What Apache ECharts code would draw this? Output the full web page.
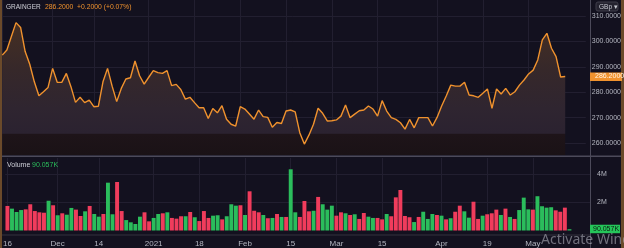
<!DOCTYPE html>
<html><head><meta charset="utf-8">
<script src="https://cdn.jsdelivr.net/npm/echarts@6/dist/echarts.min.js"></script>
<style>html,body{margin:0;padding:0;background:#13111f;overflow:hidden}#c{width:624px;height:248px;}</style>
</head><body><div id="c"></div>
<script>
const price = [294.6,296.6,302,307.4,305.5,296,291,284.1,278.6,280.2,281.9,289.4,283.9,283.9,287.4,282.2,276,278,275.9,276.9,274.3,274.5,284.1,289.4,282.4,276.3,281.5,285.2,285.7,292.3,286.5,283.2,285.9,288.5,287.7,287.4,288.5,282.6,283.1,281.1,277.3,278,275.9,273.9,273.9,269.7,273.6,271.9,274.7,269.4,267.4,266.7,274.3,273.4,271.4,269.4,273,270.4,270.1,266.2,268.1,267.7,272.6,273,272.3,264.1,259.6,263.1,267.4,273.7,271.7,268.7,268.8,269.1,270.6,275,270,271.4,272.7,273,274.6,273.4,270.6,276.7,272.6,270,269.3,268,265.5,269.3,266,270,270,270,266.7,270.1,274.6,278.5,282.8,282.4,282.4,283.9,278.9,278.6,278,279.6,281.3,273.7,281.3,279.3,281.5,278.9,280.2,282.8,284.8,287.2,288.7,292.7,300.6,303.2,297.3,294,286,286.2];
const volume = [1.74,1.55,1.31,1.45,1.50,1.86,1.38,1.29,1.26,2.11,1.79,1.08,1.22,1.12,1.60,1.48,1.03,1.36,1.74,1.17,0.98,1.17,3.39,1.15,3.44,1.38,0.74,0.58,0.46,0.98,1.29,0.65,0.89,1.17,1.22,1.29,0.89,0.84,1.01,1.01,1.31,0.94,0.67,1.38,0.89,1.05,1.08,0.79,1.01,1.86,1.76,1.79,1.10,2.78,1.40,1.29,1.10,0.87,0.89,1.17,0.96,0.96,4.34,1.29,0.96,2.09,1.36,1.40,2.38,1.86,1.48,1.76,1.05,1.29,1.22,1.10,1.15,0.82,1.24,0.98,0.89,0.89,0.79,1.17,1.01,2.35,2.87,1.03,0.94,0.60,0.96,1.33,0.82,1.17,1.10,1.05,0.79,0.87,1.33,1.76,1.36,0.91,2.04,0.82,1.05,1.15,1.22,1.48,1.10,1.55,0.96,0.82,1.45,2.33,1.50,1.48,2.43,1.72,1.62,1.65,1.43,1.33,1.62,0.09];
const volUp = [0,1,1,1,0,0,0,0,0,1,0,1,0,1,1,0,0,1,0,1,1,0,1,1,0,0,1,1,1,1,0,0,1,1,0,1,0,0,0,1,0,1,0,0,0,1,1,0,1,1,1,0,1,0,0,0,1,0,1,0,1,0,1,1,0,0,0,1,0,1,1,1,0,0,1,0,1,0,0,1,1,0,0,1,0,0,0,0,0,1,0,1,1,1,0,1,0,1,0,0,1,1,0,0,1,0,0,0,1,0,1,0,1,1,1,0,1,1,1,1,0,0,0,1];
const tickIndex = [0,11,20,32,42,52,62,72,82,95,105,115];
const tickText = ['16','Dec','14','2021','18','Feb','15','Mar','15','Apr','19','May'];
const priceTicks = [260,270,280,290,300,310];
const volTicks = [2,4];
const lastPriceText = '286.2000';
const changeText = '+0.2000 (+0.07%)';
const lastVolText = '90.057K';
const slotCount = 128;

const categories = [];
for (let i = 0; i < slotCount; i++) categories.push(String(i));
const labelMap = {};
tickIndex.forEach((k, i) => { labelMap[k] = tickText[i]; });
const isTick = (idx) => labelMap[idx] !== undefined;

const GREEN = '#2bbd5c', RED = '#f03c5c', ORANGE = '#f0922e';
const GRID = '#221f30', TXT = '#b4b6c0';
const FONT = 'Liberation Sans, Arial, sans-serif';

const chart = echarts.init(document.getElementById('c'), null, {renderer: 'canvas'});
const option = {
  backgroundColor: '#13111f',
  animation: false,
  grid: [
    {left: 0, right: 34, top: 0, height: 155},
    {left: 0, right: 34, top: 158, height: 72.5}
  ],
  xAxis: [
    {type: 'category', gridIndex: 0, data: categories, boundaryGap: true,
     axisLine: {show: false}, axisTick: {show: false}, axisLabel: {show: false},
     splitLine: {show: true, interval: isTick, alignWithLabel: true, lineStyle: {color: GRID, width: 1}}},
    {type: 'category', gridIndex: 1, data: categories, boundaryGap: true,
     axisLine: {show: false}, axisTick: {show: false},
     axisLabel: {show: true, interval: isTick, formatter: (v, idx) => labelMap[idx] || '',
       alignMinLabel: 'center', hideOverlap: false,
       color: TXT, fontSize: 8, fontFamily: FONT, margin: 9},
     splitLine: {show: true, interval: isTick, alignWithLabel: true, lineStyle: {color: GRID, width: 1}}}
  ],
  yAxis: [
    {type: 'value', gridIndex: 0, position: 'right', min: 255.3, max: 316.3,
     axisLine: {show: false},
     axisTick: {show: false, customValues: priceTicks},
     axisLabel: {show: true, customValues: priceTicks, formatter: v => v.toFixed(4),
       color: TXT, fontSize: 7, fontFamily: FONT, margin: 6},
     splitLine: {show: true, lineStyle: {color: GRID, width: 1}}},
    {type: 'value', gridIndex: 1, position: 'right', min: 0, max: 5.14,
     axisLine: {show: false},
     axisTick: {show: false, customValues: volTicks},
     axisLabel: {show: true, customValues: volTicks, formatter: v => v + 'M',
       color: TXT, fontSize: 7, fontFamily: FONT, margin: 7},
     splitLine: {show: true, lineStyle: {color: GRID, width: 1}}}
  ],
  series: [
    {type: 'line', xAxisIndex: 0, yAxisIndex: 0, data: price, symbol: 'none', z: 3,
     lineStyle: {color: ORANGE, width: 1.4},
     areaStyle: {origin: 'start', opacity: 1,
       color: new echarts.graphic.LinearGradient(0, 0, 0, 155, [
         {offset: 0, color: '#503420'},
         {offset: 0.2, color: '#432e24'},
         {offset: 0.45, color: '#36282a'},
         {offset: 0.7, color: '#2f2530'},
         {offset: 0.86, color: '#2b2230'},
         {offset: 0.866, color: '#1e1419'},
         {offset: 1, color: '#1a1216'}
       ], true)}},
    {type: 'bar', xAxisIndex: 1, yAxisIndex: 1, barCategoryGap: '14%', z: 3,
     data: volume.map((v, i) => ({value: v, itemStyle: {color: volUp[i] ? GREEN : RED}}))}
  ]
};
chart.setOption(option);

const lastIdx = price.length - 1;
const pTag = chart.convertToPixel({gridIndex: 0}, [lastIdx, price[lastIdx]]);
const vTag = chart.convertToPixel({gridIndex: 1}, [lastIdx, volume[lastIdx]]);

chart.setOption({
  graphic: [
    {type: 'rect', z: 50, shape: {x: 0, y: 155.5, width: 624, height: 1.5}, style: {fill: '#4c4a5a'}},
    {type: 'rect', z: 50, shape: {x: 0, y: 234.5, width: 590, height: 1}, style: {fill: '#34323f'}},
    {type: 'rect', z: 50, shape: {x: 590, y: 0, width: 1, height: 248}, style: {fill: '#4c4a5a'}},
    {type: 'rect', z: 60, shape: {x: 0, y: 0, width: 2, height: 248}, style: {fill: '#6b4a2a'}},
    {type: 'rect', z: 60, shape: {x: 621, y: 0, width: 3, height: 248}, style: {fill: '#6b4a2a'}},
    {type: 'text', z: 60, x: 6, y: 3.5, style: {text: 'GRAINGER', fill: '#cfd0d8', fontSize: 6.5, fontFamily: FONT}},
    {type: 'text', z: 60, x: 45, y: 3.5, style: {text: lastPriceText, fill: ORANGE, fontSize: 6.8, fontFamily: FONT}},
    {type: 'text', z: 60, x: 77, y: 3.5, style: {text: changeText, fill: ORANGE, fontSize: 6.8, fontFamily: FONT}},
    {type: 'text', z: 60, x: 7, y: 161.5, style: {text: 'Volume', fill: '#cfd0d8', fontSize: 7, fontFamily: FONT}},
    {type: 'text', z: 60, x: 32, y: 161.5, style: {text: lastVolText, fill: GREEN, fontSize: 7, fontFamily: FONT}},
    {type: 'rect', z: 60, shape: {x: 596, y: 2, width: 22, height: 9, r: 2}, style: {fill: '#24222f', stroke: '#3e3c4a', lineWidth: 1}},
    {type: 'text', z: 61, x: 599, y: 3.5, style: {text: 'GBp ▾', fill: '#c8c9d2', fontSize: 6.5, fontFamily: FONT}},
    {type: 'rect', z: 60, shape: {x: 590, y: pTag[1] - 4, width: 32, height: 8.5}, style: {fill: ORANGE}},
    {type: 'text', z: 61, x: 595, y: pTag[1] - 3.5, style: {text: lastPriceText, fill: '#fff4e6', fontSize: 7, fontFamily: FONT}},
    {type: 'rect', z: 60, shape: {x: 590, y: vTag[1] - 4.5, width: 30, height: 8.5}, style: {fill: '#25c55a'}},
    {type: 'text', z: 61, x: 593, y: vTag[1] - 4, style: {text: lastVolText, fill: '#0c1a10', fontSize: 7, fontFamily: FONT}},
    {type: 'text', z: 70, x: 541, y: 233, style: {text: 'Activate Windows', fill: 'rgba(190,190,200,0.55)', fontSize: 14, fontFamily: 'Noto Sans, sans-serif'}}
  ]
});
</script></body></html>
